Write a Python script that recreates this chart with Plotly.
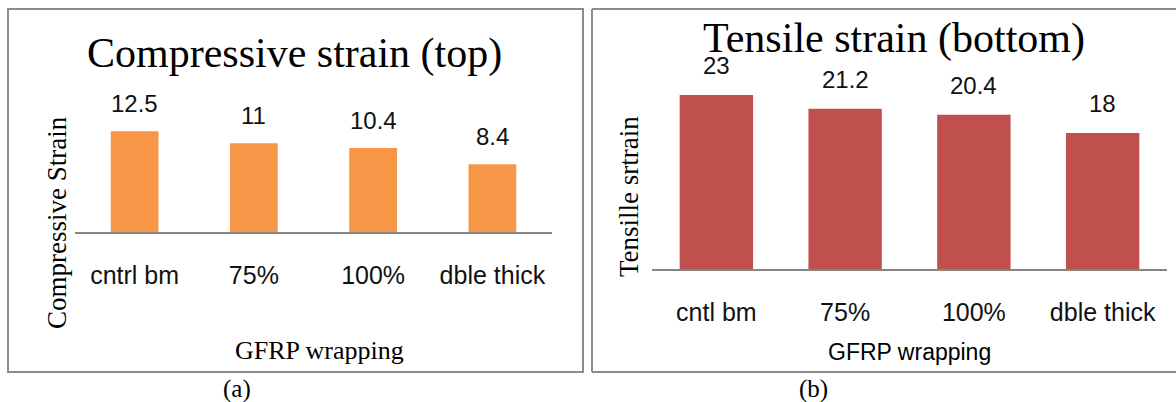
#!/usr/bin/env python3

import plotly.graph_objects as go

W, H = 1176, 402

# data
cats_top = ["cntrl bm", "75%", "100%", "dble thick"]
comp_strain = [12.5, 11, 10.4, 8.4]
cats_bottom = ["cntl bm", "75%", "100%", "dble thick"]
tens_strain = [23, 21.2, 20.4, 18]

SERIF = "Liberation Serif, Times New Roman, serif"
SANS = "Liberation Sans, Arial, sans-serif"


def px(x):
        return x / W


def py(y):
        return 1 - y / H


fig = go.Figure()

fig.add_trace(go.Bar(x=cats_top, y=comp_strain, width=0.40, marker_color="#F79646",
                     marker_line_width=0, xaxis="x", yaxis="y", showlegend=False))
fig.add_trace(go.Bar(x=cats_bottom, y=tens_strain, width=0.57, marker_color="#C0504D",
                     marker_line_width=0, xaxis="x2", yaxis="y2", showlegend=False))

annotations = []
# value labels above the bars
for c, v in zip(cats_top, comp_strain):
        annotations.append(dict(x=c, y=v, xref="x", yref="y", text=str(v), showarrow=False,
                                yanchor="bottom", yshift=12, font=dict(family=SANS, size=24, color="#111")))
for c, v in zip(cats_bottom, tens_strain):
        annotations.append(dict(x=c, y=v, xref="x2", yref="y2", text=str(v), showarrow=False,
                                yanchor="bottom", yshift=14, font=dict(family=SANS, size=24, color="#111")))

# titles, axis titles, captions
texts = [
        ("Compressive strain (top)", 294, 54, SERIF, 42, 0),
        ("Tensile strain (bottom)", 894, 39, SERIF, 42, 0),
        ("Compressive Strain", 57, 223, SERIF, 27, -90),
        ("Tensille srtrain", 629, 197, SERIF, 27, -90),
        ("GFRP wrapping", 319, 350, SERIF, 26, 0),
        ("GFRP wrapping", 909, 352, SANS, 23, 0),
        ("(a)", 237, 389, SERIF, 25, 0),
        ("(b)", 813, 389, SERIF, 25, 0),
]
for t, x, y, fam, sz, ang in texts:
        annotations.append(dict(x=px(x), y=py(y), xref="paper", yref="paper", text=t, showarrow=False,
                                xanchor="center", yanchor="middle", textangle=ang,
                                font=dict(family=fam, size=sz, color="#000")))

# panel frames
frame = dict(color="#8c8c8c", width=2)
shapes = [
        dict(type="rect", xref="paper", yref="paper", x0=px(8), x1=px(583), y0=py(372), y1=py(9), line=frame),
        dict(type="line", xref="paper", yref="paper", x0=px(592), x1=px(592), y0=py(372), y1=py(9), line=frame),
        dict(type="line", xref="paper", yref="paper", x0=px(592), x1=1, y0=py(9), y1=py(9), line=frame),
        dict(type="line", xref="paper", yref="paper", x0=px(592), x1=1, y0=py(372), y1=py(372), line=frame),
]

xax = dict(showline=True, linecolor="#868686", linewidth=1.5, showgrid=False, zeroline=False,
           ticks="outside", ticklen=20, tickcolor="rgba(0,0,0,0)",
           tickfont=dict(family=SANS, size=25, color="#111"), fixedrange=True)
yax = dict(showline=False, showgrid=False, zeroline=False, showticklabels=False, fixedrange=True)

fig.update_layout(
        width=W, height=H, margin=dict(l=0, r=0, t=0, b=0),
        paper_bgcolor="white", plot_bgcolor="white",
        xaxis=dict(xax, domain=[px(75), px(552)], anchor="y"),
        yaxis=dict(yax, domain=[py(232), py(111)], range=[0, 15], anchor="x"),
        xaxis2=dict(xax, domain=[px(652), px(1167)], anchor="y2"),
        yaxis2=dict(yax, domain=[py(269), py(80)], range=[0, 25], anchor="x2"),
        annotations=annotations, shapes=shapes,
)

# drop the page's default body margin so the figure fills the window
fig.write_html("out.html", config={"displayModeBar": False},
               post_script="document.body.style.margin='0';")
